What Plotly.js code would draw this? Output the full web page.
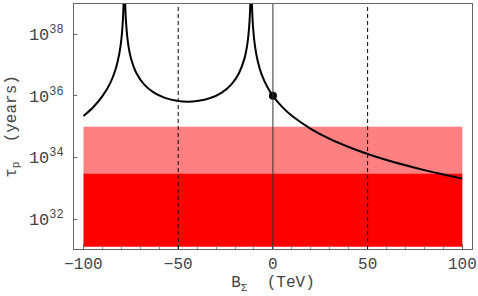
<!DOCTYPE html>
<html><head><meta charset="utf-8">
<script src="https://cdn.plot.ly/plotly-3.0.1.min.js"></script>
<style>body{margin:0;background:#fff}#c{width:478px;height:296px}</style>
</head><body><div id="c"></div>
<script>
// Proton lifetime curve (TeV, years)
var curveX = [-100,-95,-90,-86,-83,-81,-80,-79.2,-78.8,-78.4,-78.0,-77.6,-76.5,-75,-72,-68,-63,-57,-50,-45,-40,-33,-27,-22,-18,-15,-13.5,-12.5,-11.9,-11.5,-11.1,-10.5,-9.5,-8,-6,-3,0,5,10,20,30,40,50,60,70,80,90,100];
var curveY = [2.2e35,4.2e35,9.8e35,2.5e36,7.5e36,2.5e37,6.8e37,2.8e38,1.1e39,1e41,1.15e39,2.9e38,5.3e37,1.74e37,5.4e36,2.35e36,1.29e36,8.6e35,6.8e35,6.5e35,6.8e35,8.5e35,1.28e36,2.32e36,5.3e36,1.65e37,4.8e37,1.87e38,1.15e39,1e41,1.12e39,1.76e38,4.3e37,1.34e37,5.1e36,1.98e36,1e36,4.3e35,2.25e35,8.5e34,4.0e34,2.19e34,1.3e34,8.3e33,5.6e33,3.87e33,2.78e33,2.05e33];
var pointX = [0];
var pointY = [1e36];
// Excluded bands
var bandX = [-100, 100];
var darkBand = [1.25e31, 3e33];
var lightBand = [3e33, 1e35];
var dashedLines = [-50, 50];
var solidLines = [0];
var xTicks = [-100,-50,0,50,100];
var xTickText = ['\u2212100','\u221250','0','50','100'];
var yTicks = [1e32,1e34,1e36,1e38];
var yTickText = ['10<sup>32</sup>','10<sup>34</sup>','10<sup>36</sup>','10<sup>38</sup>'];

function box(x, y){ return {x:[x[0],x[1],x[1],x[0],x[0]], y:[y[0],y[0],y[1],y[1],y[0]]}; }
var bd = box(bandX, darkBand), bl = box(bandX, lightBand);
var traces = [
 {x:bl.x, y:bl.y, fill:'toself', fillcolor:'#ff8080', line:{width:0}, mode:'lines', hoverinfo:'skip'},
 {x:bd.x, y:bd.y, fill:'toself', fillcolor:'#ff0000', line:{width:0}, mode:'lines', hoverinfo:'skip'},
 {x:curveX, y:curveY, mode:'lines', line:{color:'#000', width:2, shape:'spline', smoothing:0.6}},
 {x:pointX, y:pointY, mode:'markers', marker:{color:'#000', size:8}}
];
var shapes = [];
dashedLines.forEach(function(v){ shapes.push({type:'line', xref:'x', yref:'paper', x0:v, x1:v, y0:0, y1:1, line:{color:'#000', width:1, dash:'4px,3px'}}); });
solidLines.forEach(function(v){ shapes.push({type:'line', xref:'x', yref:'paper', x0:v, x1:v, y0:0, y1:1, line:{color:'#333', width:1}}); });
var fam = 'Liberation Mono, Courier New, monospace';
var xfont = {family:fam, size:16, color:'#444'};
var yfont = {family:fam, size:17, color:'#444'};
var layout = {
 width:478, height:296, showlegend:false,
 margin:{l:74, r:6, t:4, b:47},
 paper_bgcolor:'#fff', plot_bgcolor:'#fff', font:xfont,
 shapes:shapes,
 xaxis:{range:[-105,105.1], tickvals:xTicks, ticktext:xTickText, ticks:'inside', ticklen:5, tickcolor:'#666',
   minor:{dtick:10, tick0:0, ticks:'inside', ticklen:3, tickcolor:'#888'},
   showline:true, linecolor:'#666', mirror:true, showgrid:false, zeroline:false, tickfont:xfont,
   title:{text:'B<sub>\u03a3</sub>  (TeV)', font:xfont, standoff:2}},
 yaxis:{type:'log', range:[31.026,38.984], tickvals:yTicks, ticktext:yTickText, ticks:'inside', ticklen:3, tickcolor:'#666',
   showline:true, linecolor:'#666', mirror:true, showgrid:false, zeroline:false, tickfont:yfont, ticklabelstandoff:6,
   title:{text:'\u03c4<sub>p</sub>  (years)', font:xfont, standoff:8}}
};
Plotly.newPlot('c', traces, layout, {displayModeBar:false, staticPlot:true});
</script></body></html>
